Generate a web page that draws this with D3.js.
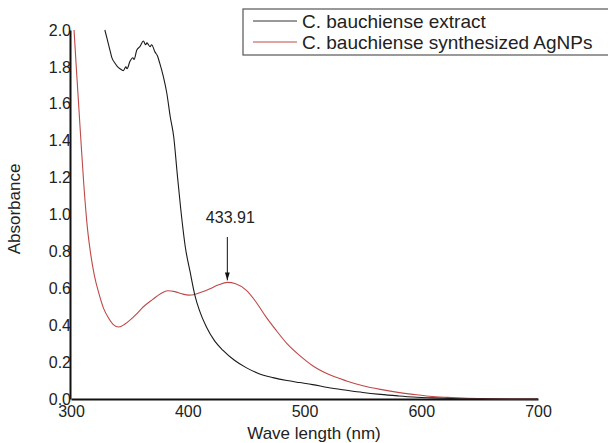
<!DOCTYPE html>
<html lang="en">
  <head>
    <meta charset="utf-8">
    <script src="https://d3js.org/d3.v7.min.js"></script>
    <title>UV-Vis absorbance</title>
    <style>
      body { margin: 0; background: #fff; }
      svg text { font-family: Arial, "Liberation Sans", sans-serif; fill: #222; }
    </style>
  </head>
  <body>
  <script type="text/javascript">

    // wavelength (nm) / absorbance
    var extractWave = [329, 331, 333.4, 335, 337.7, 340, 342, 344.8, 347, 348, 350.5, 353, 354, 356.3, 359, 362, 364, 365, 367.7, 369, 372, 374, 376, 379, 382, 385, 388, 391, 394, 398, 402, 406, 410, 416, 423, 430, 440, 450, 460, 473, 485, 496, 507, 520, 536, 550, 565, 580, 593, 610, 625, 650, 675, 700];
    var extractAbs  = [2.00, 1.95, 1.89, 1.85, 1.82, 1.80, 1.79, 1.78, 1.80, 1.79, 1.83, 1.85, 1.84, 1.89, 1.91, 1.94, 1.92, 1.93, 1.91, 1.92, 1.88, 1.86, 1.82, 1.75, 1.66, 1.53, 1.42, 1.22, 1.03, 0.82, 0.69, 0.565, 0.48, 0.39, 0.315, 0.265, 0.21, 0.17, 0.14, 0.116, 0.10, 0.089, 0.078, 0.062, 0.047, 0.035, 0.025, 0.017, 0.011, 0.006, 0.003, 0.001, 0, 0];

    var agnpWave = [302.6, 305, 308.3, 311, 314, 317, 320, 324, 328, 332, 336, 341, 346, 351, 356, 362, 370, 377, 383, 389, 395, 401, 405, 412, 419, 426, 434, 441, 450, 458, 467, 476, 485, 496, 507, 520, 536, 550, 565, 580, 593, 607, 622, 640, 660, 680, 700];
    var agnpAbs  = [2.00, 1.75, 1.42, 1.16, 0.93, 0.78, 0.67, 0.57, 0.49, 0.44, 0.405, 0.39, 0.405, 0.43, 0.46, 0.50, 0.54, 0.572, 0.587, 0.582, 0.57, 0.563, 0.565, 0.58, 0.598, 0.618, 0.632, 0.625, 0.59, 0.53, 0.445, 0.37, 0.30, 0.235, 0.18, 0.135, 0.098, 0.072, 0.052, 0.036, 0.025, 0.015, 0.009, 0.004, 0.001, 0, 0];

    var xTicks = [300, 400, 500, 600, 700];
    var yTicks = [0.0, 0.2, 0.4, 0.6, 0.8, 1.0, 1.2, 1.4, 1.6, 1.8, 2.0];
    var seriesNames = ["C. bauchiense extract", "C. bauchiense synthesized AgNPs"];
    var peakWave = 433.91;
    var peakAbs = 0.632;

    var width = 608, height = 443;

    var svg = d3.select("body").append("svg")
      .attr("width", width)
      .attr("height", height);

    var x = d3.scaleLinear().domain([300, 700]).range([71, 538]);
    var y = d3.scaleLinear().domain([0, 2]).range([399, 30]);

    // axes, no tick marks
    var xAxis = svg.append("g")
      .attr("transform", "translate(0,399)")
      .call(d3.axisBottom(x).tickValues(xTicks).tickSize(0).tickPadding(7).tickFormat(d3.format("d")));
    var yAxis = svg.append("g")
      .attr("transform", "translate(70,0)")
      .call(d3.axisLeft(y).tickValues(yTicks).tickSize(0).tickPadding(-1).tickFormat(d3.format(".1f")));

    svg.selectAll(".domain").attr("stroke", "#111").attr("stroke-width", 2);
    xAxis.selectAll("text").style("font-size", "16px").attr("fill", "#333");
    yAxis.selectAll("text").style("font-size", "16px").attr("fill", "#333");

    svg.append("text")
      .attr("transform", "translate(20,209) rotate(-90)")
      .attr("text-anchor", "middle")
      .style("font-size", "17px")
      .text("Absorbance");

    svg.append("text")
      .attr("x", 314)
      .attr("y", 439)
      .attr("text-anchor", "middle")
      .style("font-size", "17px")
      .text("Wave length (nm)");

    var line = d3.line()
      .x(function(d) { return x(d[0]); })
      .y(function(d) { return y(d[1]); })
      .curve(d3.curveMonotoneX);

    var extractData = d3.zip(extractWave, extractAbs);
    var agnpData = d3.zip(agnpWave, agnpAbs);

    svg.append("path")
      .datum(agnpData)
      .attr("fill", "none")
      .attr("stroke", "#c04848")
      .attr("stroke-width", 1.1)
      .attr("d", line);

    svg.append("path")
      .datum(extractData)
      .attr("fill", "none")
      .attr("stroke", "#1a1a1a")
      .attr("stroke-width", 1.1)
      .attr("d", line);

    // peak annotation
    svg.append("defs").append("marker")
      .attr("id", "arrow")
      .attr("viewBox", "0 0 10 10")
      .attr("refX", 10).attr("refY", 5)
      .attr("markerWidth", 8).attr("markerHeight", 8)
      .attr("orient", "auto")
      .append("path")
      .attr("d", "M0,2 L10,5 L0,8 Z")
      .attr("fill", "#111");

    svg.append("line")
      .attr("x1", x(peakWave)).attr("x2", x(peakWave))
      .attr("y1", 237).attr("y2", y(peakAbs) - 2)
      .attr("stroke", "#111")
      .attr("stroke-width", 1)
      .attr("marker-end", "url(#arrow)");

    svg.append("text")
      .attr("x", x(peakWave) + 3)
      .attr("y", 223)
      .attr("text-anchor", "middle")
      .style("font-size", "16px")
      .text(d3.format(".2f")(peakWave));

    // legend
    var legend = svg.append("g");
    legend.append("rect")
      .attr("x", 243).attr("y", 9)
      .attr("width", 400).attr("height", 46)
      .attr("fill", "#fff")
      .attr("stroke", "#555")
      .attr("stroke-width", 1.2);

    var legendColors = ["#333", "#c04848"];
    seriesNames.forEach(function(name, i) {
      var ly = 21 + i * 21;
      legend.append("line")
        .attr("x1", 253).attr("x2", 297)
        .attr("y1", ly).attr("y2", ly)
        .attr("stroke", legendColors[i])
        .attr("stroke-width", 1);
      legend.append("text")
        .attr("x", 302)
        .attr("y", ly)
        .attr("dy", "0.35em")
        .style("font-size", "19px")
        .text(name);
    });

  </script>
  </body>
</html>
